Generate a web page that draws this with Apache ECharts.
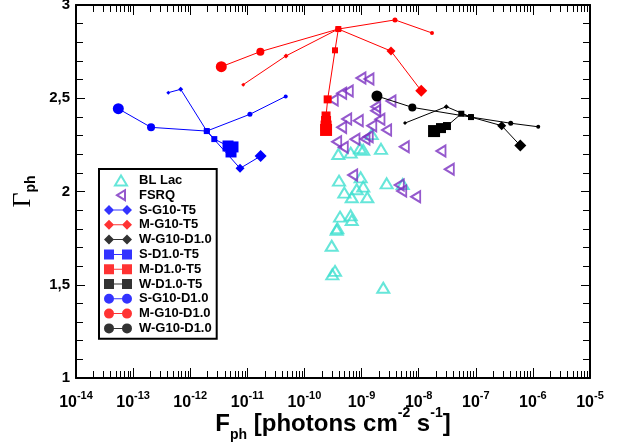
<!DOCTYPE html>
<html><head><meta charset="utf-8">
<script src="https://cdn.jsdelivr.net/npm/echarts@6/dist/echarts.min.js"></script>
<style>html,body{margin:0;padding:0;background:#fff}#c{width:623px;height:448px}</style>
</head><body><div id="c"></div>
<script>
// ---------- data (x = F_ph [photons cm^-2 s^-1], y = Gamma_ph) ----------
const blLac = [
  [3.92e-10,2.201],[6.46e-10,2.208],[9.4e-10,2.232],[1.07e-9,2.223],[2.19e-9,2.229],[1.51e-9,2.308],
  [4.03e-10,2.058],[9.66e-10,2.076],[1.07e-9,2.026],[8.22e-10,2.012],[4.99e-10,1.994],[6.73e-10,1.969],
  [1.26e-9,1.969],[2.75e-9,2.044],[5.26e-9,2.040],[4.20e-10,1.865],[6.46e-10,1.872],[6.73e-10,1.847],
  [3.76e-10,1.803],[3.67e-10,1.794],[3.0e-10,1.709],[3.43e-10,1.574],[3.08e-10,1.556],[2.40e-9,1.484]
];
const fsrq = [
  [9.77e-10,2.609],[1.35e-9,2.603],[3.20e-10,2.491],[4.49e-10,2.527],[5.86e-10,2.539],[3.28e-9,2.485],
  [1.77e-9,2.455],[1.77e-9,2.433],[5.50e-10,2.389],[8.77e-10,2.380],[2.10e-9,2.387],[1.51e-9,2.353],
  [4.49e-10,2.344],[2.75e-9,2.330],[7.67e-10,2.280],[1.31e-9,2.294],[1.15e-9,2.282],[3.67e-10,2.267],
  [4.79e-10,2.237],[5.61e-9,2.240],[2.46e-8,2.217],[3.44e-8,2.119],[7.0e-10,2.088],[4.58e-9,2.035],
  [5.05e-9,2.003],[8.87e-9,1.972]
];
// model tracks (points in drawing order)
const sG10T5   = [[4.13e-13,2.530],[6.81e-13,2.548],[1.95e-12,2.324],[7.45e-12,2.124],[1.71e-11,2.190]];
const mG10T5   = [[8.49e-12,2.573],[4.75e-11,2.727],[3.92e-10,2.871],[3.28e-9,2.753],[1.11e-8,2.540]];
const wG10T5   = [[5.77e-9,2.367],[3.05e-8,2.455],[8.24e-8,2.399],[2.84e-7,2.353],[6.03e-7,2.246]];
const sD10T5   = [[1.95e-12,2.324],[2.64e-12,2.281],[4.59e-12,2.244],[5.61e-12,2.239],[5.18e-12,2.212]];
const mD10T5   = [[3.92e-10,2.871],[3.43e-10,2.757],[2.55e-10,2.494],[2.39e-10,2.405],[2.39e-10,2.378],[2.39e-10,2.351],[2.39e-10,2.330]];
const wD10T5   = [[8.24e-8,2.399],[5.58e-8,2.417],[3.13e-8,2.351],[2.46e-8,2.340],[1.86e-8,2.324]];
const sG10D10  = [[4.70e-11,2.510],[1.11e-11,2.414],[1.95e-12,2.324],[2.06e-13,2.344],[5.51e-14,2.444]];
const mG10D10  = [[1.71e-8,2.850],[3.85e-9,2.920],[3.92e-10,2.871],[1.69e-11,2.750],[3.50e-12,2.669]];
const wG10D10  = [[1.24e-6,2.347],[4.09e-7,2.366],[8.24e-8,2.399],[7.74e-9,2.451],[1.86e-9,2.512]];
// axes
const xExponents = [-14,-13,-12,-11,-10,-9,-8,-7,-6,-5];
const minorMultipliers = [2,3,4,5,6,7,8,9];
const yTickValues = [1,1.5,2,2.5,3];

// ---------- styles ----------
const TURQ = '#40E0D0', PURP = '#7B2FC0';
const BLUE = '#0000FF', RED = '#FF0000', BLACK = '#000000';
const sizeTrackA = [4,5,6,9,12];     // diamonds
const sizeTrackC = [4,5,6,8,11];     // circles
const sizeSq_S = [6,6,11,11,11];
const sizeSq_M = [6,6,8,9,10,11,12];
const sizeSq_W = [6,6,8,10,12];

const minorTicks = [];
xExponents.slice(0,-1).forEach(e => minorMultipliers.forEach(k => minorTicks.push([k*Math.pow(10,e), 1])));

const diamondPair = 'path://M0,5 L5,0 L10,5 L5,10 Z M18,5 L23,0 L28,5 L23,10 Z M9,4.5 L19,4.5 L19,5.5 L9,5.5 Z';
const squarePair = 'path://M0,0 L10,0 L10,10 L0,10 Z M18,0 L28,0 L28,10 L18,10 Z M9,4.5 L19,4.5 L19,5.5 L9,5.5 Z';
const circlePair = 'path://M0,5 A5,5 0 1,1 10,5 A5,5 0 1,1 0,5 Z M18,5 A5,5 0 1,1 28,5 A5,5 0 1,1 18,5 Z M9,4.5 L19,4.5 L19,5.5 L9,5.5 Z';
const triUp = 'path://M0,0 M28,10 M11,10 L17,0 L23,10 Z';
const triLeft = 'path://M0,0 M28,10 M13,5 L21,0 L21,10 Z';

function track(name, pts, sizes, symbol, color) {
  return {
    type: 'line', name: '_' + name, symbol: symbol, showAllSymbol: true,
    data: pts.map((p, i) => ({ value: p, symbolSize: sizes[i] })),
    lineStyle: { color: color, width: 1 }, itemStyle: { color: color },
    silent: true, z: 4, clip: false, emphasis: { disabled: true }
  };
}
function legendOnly(name, color) {
  return { type: 'scatter', name: name, data: [], itemStyle: { color: color } };
}

const FONT = 'Liberation Sans';
const chart = echarts.init(document.getElementById('c'), null, { renderer: 'canvas' });
const axisCommon = {
  axisLine: { show: true, lineStyle: { color: '#000', width: 2 } },
  splitLine: { show: false }
};
const option = {
  animation: false,
  backgroundColor: '#fff',
  grid: { left: 76, right: 33, top: 5, bottom: 70, containLabel: false, outerBoundsMode: 'none' },
  xAxis: [
    Object.assign({
      type: 'log', logBase: 10, min: 1e-14, max: 1e-5, position: 'bottom',
      axisTick: { inside: true, length: 10, lineStyle: { color: '#000', width: 1 } },
      axisLabel: {
        margin: 12,
        formatter: v => '{b|10}{e|' + Math.round(Math.log10(v)) + '}',
        rich: {
          b: { fontFamily: FONT, fontWeight: 'bold', fontSize: 16, color: '#000', lineHeight: 26 },
          e: { fontFamily: FONT, fontWeight: 'bold', fontSize: 11, color: '#000', lineHeight: 8, verticalAlign: 'top' }
        }
      },
      name: '{m|F}{sb|ph}{m| [photons cm}{sp|-2}{m| s}{sp|-1}{m|]}',
      nameLocation: 'middle', nameGap: 28, nameMoveOverlap: false,
      nameTextStyle: {
        rich: {
          m: { fontFamily: FONT, fontWeight: 'bold', fontSize: 24, color: '#000', lineHeight: 36 },
          sb: { fontFamily: FONT, fontWeight: 'bold', fontSize: 14, color: '#000', lineHeight: 14, verticalAlign: 'bottom' },
          sp: { fontFamily: FONT, fontWeight: 'bold', fontSize: 14, color: '#000', lineHeight: 12, verticalAlign: 'top' }
        }
      }
    }, axisCommon),
    Object.assign({
      type: 'log', logBase: 10, min: 1e-14, max: 1e-5, position: 'top',
      axisTick: { inside: true, length: 10, lineStyle: { color: '#000', width: 1 } },
      axisLabel: { show: false }
    }, axisCommon)
  ],
  yAxis: [
    Object.assign({
      type: 'value', min: 1, max: 3, interval: 0.5, position: 'left',
      axisTick: { inside: true, length: 9, lineStyle: { color: '#000', width: 1 } },
      minorTick: { show: true, splitNumber: 5, length: 7, lineStyle: { color: '#000', width: 1 } },
      axisLabel: {
        margin: 6, fontFamily: FONT, fontWeight: 'bold', fontSize: 15, color: '#000',
        formatter: v => yTickValues.indexOf(v) >= 0 ? String(v).replace('.', ',') : ''
      },
      name: '{g|Γ}{s|ph}', nameLocation: 'middle', nameRotate: 90, nameGap: 38, nameMoveOverlap: false,
      nameTextStyle: {
        rich: {
          g: { fontFamily: 'Liberation Serif', fontSize: 26, color: '#000', lineHeight: 30 },
          s: { fontFamily: FONT, fontWeight: 'bold', fontSize: 14, color: '#000', lineHeight: 12, verticalAlign: 'bottom' }
        }
      }
    }, axisCommon),
    Object.assign({
      type: 'value', min: 1, max: 3, interval: 0.5, position: 'right',
      axisTick: { inside: true, length: 9, lineStyle: { color: '#000', width: 1 } },
      minorTick: { show: true, splitNumber: 5, length: 7, lineStyle: { color: '#000', width: 1 } },
      axisLabel: { show: false }
    }, axisCommon)
  ],
  legend: {
    orient: 'vertical', left: 99, top: 169,
    padding: [4, 5, 3, 4], itemGap: 0, itemWidth: 28, itemHeight: 10,
    symbolRotate: 0,
    borderColor: '#000', borderWidth: 2, backgroundColor: '#fff',
    formatter: n => n.trim(),
    textStyle: { fontFamily: FONT, fontWeight: 'bold', fontSize: 13, color: '#000', lineHeight: 14.8, padding: [0, 0, 0, 2] },
    data: [
      { name: 'BL Lac', icon: triUp, itemStyle: { color: 'rgba(0,0,0,0)', borderColor: TURQ, borderWidth: 2 } },
      { name: 'FSRQ', icon: triLeft, itemStyle: { color: 'rgba(0,0,0,0)', borderColor: PURP, borderWidth: 2 } },
      { name: 'S-G10-T5', icon: diamondPair },
      { name: 'M-G10-T5', icon: diamondPair },
      { name: 'W-G10-D1.0 ', icon: diamondPair },
      { name: 'S-D1.0-T5', icon: squarePair },
      { name: 'M-D1.0-T5', icon: squarePair },
      { name: 'W-D1.0-T5', icon: squarePair },
      { name: 'S-G10-D1.0', icon: circlePair },
      { name: 'M-G10-D1.0', icon: circlePair },
      { name: 'W-G10-D1.0', icon: circlePair }
    ]
  },
  series: [
    {
      type: 'custom', name: '_minor', silent: true, clip: false, z: 1,
      data: minorTicks,
      renderItem: (params, api) => {
        const v = api.value(0);
        const pb = api.coord([v, 1]);
        const pt = api.coord([v, 3]);
        const x = Math.round(pb[0]) + 0.5;
        return { type: 'group', children: [
          { type: 'line', shape: { x1: x, y1: pb[1], x2: x, y2: pb[1] - 7 }, style: { stroke: '#000', lineWidth: 1 } },
          { type: 'line', shape: { x1: x, y1: pt[1], x2: x, y2: pt[1] + 7 }, style: { stroke: '#000', lineWidth: 1 } }
        ]};
      }
    },
    {
      type: 'scatter', name: 'BL Lac', data: blLac, symbol: 'triangle', symbolSize: [12, 10], z: 2,
      itemStyle: { color: 'rgba(0,0,0,0)', borderColor: TURQ, borderWidth: 2 }, emphasis: { disabled: true }
    },
    {
      type: 'scatter', name: 'FSRQ', data: fsrq, symbol: 'triangle', symbolSize: [11, 9], symbolRotate: 90, z: 2,
      itemStyle: { color: 'rgba(0,0,0,0)', borderColor: PURP, borderWidth: 2 }, emphasis: { disabled: true }
    },
    track('S-G10-T5', sG10T5, sizeTrackA, 'diamond', BLUE),
    track('M-G10-T5', mG10T5, sizeTrackA, 'diamond', RED),
    track('W-G10-T5', wG10T5, sizeTrackA, 'diamond', BLACK),
    track('S-D1.0-T5', sD10T5, sizeSq_S, 'rect', BLUE),
    track('M-D1.0-T5', mD10T5, sizeSq_M, 'rect', RED),
    track('W-D1.0-T5', wD10T5, sizeSq_W, 'rect', BLACK),
    track('S-G10-D1.0', sG10D10, sizeTrackC, 'circle', BLUE),
    track('M-G10-D1.0', mG10D10, sizeTrackC, 'circle', RED),
    track('W-G10-D1.0', wG10D10, sizeTrackC, 'circle', BLACK),
    legendOnly('S-G10-T5', BLUE), legendOnly('M-G10-T5', RED), legendOnly('W-G10-D1.0 ', BLACK),
    legendOnly('S-D1.0-T5', BLUE), legendOnly('M-D1.0-T5', RED), legendOnly('W-D1.0-T5', BLACK),
    legendOnly('S-G10-D1.0', BLUE), legendOnly('M-G10-D1.0', RED), legendOnly('W-G10-D1.0', BLACK)
  ]
};
chart.setOption(option);
</script>
</body></html>
